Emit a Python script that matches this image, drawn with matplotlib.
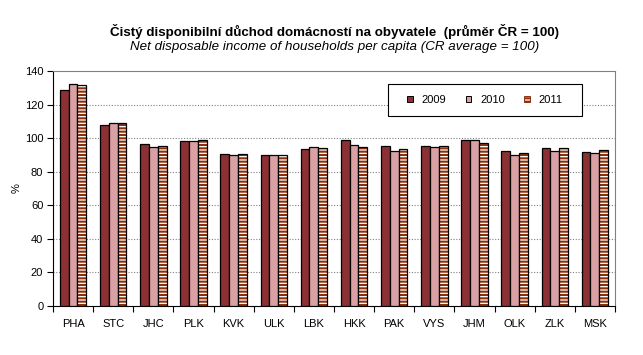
import numpy as np
import matplotlib
matplotlib.use('Agg')
import matplotlib.pyplot as plt
from matplotlib.patches import Patch, Rectangle

plt.rcParams['font.family'] = ['Liberation Sans', 'DejaVu Sans']
plt.rcParams['hatch.linewidth'] = 1.5

regions = ['PHA', 'STC', 'JHC', 'PLK', 'KVK', 'ULK', 'LBK', 'HKK',
           'PAK', 'VYS', 'JHM', 'OLK', 'ZLK', 'MSK']
years = ['2009', '2010', '2011']
v2009 = [128.4, 107.6, 96.5, 98.4, 90.6, 90.0, 93.5, 98.8, 95.3, 95.3, 98.8, 92.5, 94.1, 91.8]
v2010 = [132.2, 108.8, 94.7, 98.4, 90.0, 90.0, 94.7, 95.9, 92.5, 94.7, 98.8, 90.0, 92.5, 91.2]
v2011 = [131.4, 108.8, 95.3, 99.0, 90.6, 90.0, 94.1, 94.7, 93.5, 95.3, 97.2, 91.2, 94.1, 93.1]

col_2009 = '#8c3034'
col_2010 = '#d9a1a3'
col_hatch = '#8c300c'

fig = plt.figure(figsize=(6.43, 3.55), dpi=100)
ax = fig.add_axes([0.0824, 0.138, 0.874, 0.662])

x = np.arange(len(regions))
w = 0.22

ax.bar(x - w, v2009, w, color=col_2009, edgecolor='black', linewidth=0.9, zorder=3)
ax.bar(x, v2010, w, color=col_2010, edgecolor='black', linewidth=0.9, zorder=3)
# hatched bars: stripes first, then a black outline on top
ax.bar(x + w, v2011, w, color='white', edgecolor=col_hatch, hatch='-----',
       linewidth=0, zorder=3)
ax.bar(x + w, v2011, w, fill=False, edgecolor='black', linewidth=0.9, zorder=4)

ax.set_xlim(-0.5, len(regions) - 0.5)
ax.set_ylim(0, 140)
ax.set_yticks(np.arange(0, 141, 20))
ax.set_xticks(x)
ax.set_xticklabels(regions, fontsize=8)
ax.set_xticks(np.arange(-0.5, len(regions), 1), minor=True)
ax.tick_params(axis='x', which='major', length=0, pad=9)
ax.tick_params(axis='x', which='minor', length=4, direction='out', width=0.8)
ax.tick_params(axis='y', labelsize=8, length=4, direction='out', width=0.8, pad=3)

for yv in range(20, 140, 20):
    ax.axhline(yv, color='#808080', linestyle=(0, (1, 1.5)), linewidth=0.8, zorder=1)

ax.spines['top'].set_color('#808080')
ax.spines['right'].set_color('#808080')
ax.spines['left'].set_color('black')
ax.spines['bottom'].set_color('black')

ax.set_ylabel('%', fontsize=8, labelpad=2)

# legend box drawn by hand so the padding can be wider than tall
ax.add_patch(Rectangle((0.596, 0.8085), 0.345, 0.136, transform=ax.transAxes,
                       facecolor='white', edgecolor='black', linewidth=0.8, zorder=5))
handles = [
    Patch(facecolor=col_2009, edgecolor='black', linewidth=0.7),
    Patch(facecolor=col_2010, edgecolor='black', linewidth=0.7),
    Patch(facecolor='white', edgecolor=col_hatch, hatch='-----', linewidth=0.7),
]
leg = ax.legend(handles, years, ncol=3, loc='center',
                bbox_to_anchor=(0.7685, 0.8765), fontsize=8, frameon=False,
                handlelength=0.5, handleheight=0.5, handletextpad=0.8,
                columnspacing=1.75, borderpad=0, borderaxespad=0)
leg.set_zorder(6)

fig.text(0.52, 0.91, 'Čistý disponibilní důchod domácností na obyvatele  (průměr ČR = 100)',
         ha='center', va='center', fontsize=9.6, fontweight='bold')
fig.text(0.52, 0.868, 'Net disposable income of households per capita (CR average = 100)',
         ha='center', va='center', fontsize=9.6, style='italic')

fig.savefig('out.png', dpi=100)
